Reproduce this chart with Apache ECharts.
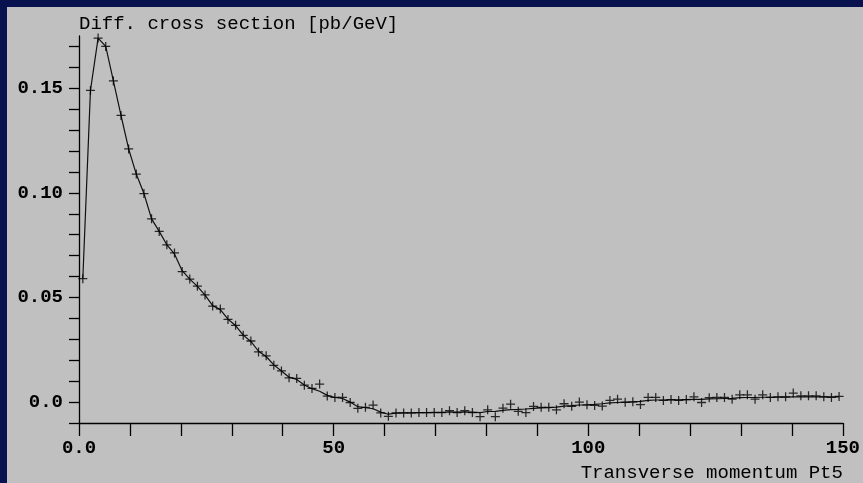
<!DOCTYPE html>
<html>
<head>
<meta charset="utf-8">
<script src="https://cdn.jsdelivr.net/npm/echarts@6/dist/echarts.min.js"></script>
<style>
  html, body { margin: 0; padding: 0; width: 863px; height: 483px; overflow: hidden; background: #07124f; }
  #chart { position: absolute; left: 7px; top: 7px; width: 856px; height: 476px; }
</style>
</head>
<body>
<div id="chart"></div>
<script>
// Bin centres (GeV)
const binCenters = [0.75,2.25,3.75,5.25,6.75,8.25,9.75,11.25,12.75,14.25,15.75,17.25,18.75,20.25,21.75,23.25,24.75,26.25,27.75,29.25,30.75,32.25,33.75,35.25,36.75,38.25,39.75,41.25,42.75,44.25,45.75,47.25,48.75,50.25,51.75,53.25,54.75,56.25,57.75,59.25,60.75,62.25,63.75,65.25,66.75,68.25,69.75,71.25,72.75,74.25,75.75,77.25,78.75,80.25,81.75,83.25,84.75,86.25,87.75,89.25,90.75,92.25,93.75,95.25,96.75,98.25,99.75,101.25,102.75,104.25,105.75,107.25,108.75,110.25,111.75,113.25,114.75,116.25,117.75,119.25,120.75,122.25,123.75,125.25,126.75,128.25,129.75,131.25,132.75,134.25,135.75,137.25,138.75,140.25,141.75,143.25,144.75,146.25,147.75,149.25];

// Measured points (crosses), pb/GeV
const pointValues = [0.059,0.149,0.174,0.170,0.1535,0.137,0.121,0.109,0.0997,0.0876,0.0816,0.0752,0.0713,0.0624,0.0588,0.0554,0.0512,0.0459,0.0445,0.0395,0.0367,0.0319,0.0292,0.0240,0.0221,0.0176,0.0149,0.0116,0.0113,0.0081,0.0065,0.0086,0.0029,0.0022,0.0022,-0.0002,-0.0030,-0.0025,-0.0014,-0.0052,-0.0068,-0.0052,-0.0052,-0.0052,-0.0050,-0.0050,-0.0050,-0.0050,-0.0041,-0.0050,-0.0041,-0.0050,-0.0070,-0.0037,-0.0070,-0.0029,-0.0010,-0.0044,-0.0050,-0.0021,-0.0025,-0.0025,-0.0037,-0.0008,-0.0020,0.0000,-0.0013,-0.0016,-0.0019,0.0008,0.0014,-0.0001,0.0001,-0.0012,0.0022,0.0022,0.0008,0.0012,0.0008,0.0012,0.0025,-0.0002,0.0021,0.0022,0.0022,0.0014,0.0035,0.0035,0.0014,0.0035,0.0022,0.0025,0.0025,0.0043,0.0030,0.0030,0.0030,0.0025,0.0022,0.0027];

// Smooth curve values
const curveValues = [0.059,0.149,0.174,0.170,0.1535,0.137,0.121,0.109,0.0997,0.0876,0.0816,0.0752,0.0708,0.0628,0.0588,0.0553,0.0511,0.0461,0.0442,0.0396,0.0366,0.0320,0.0290,0.0243,0.0218,0.0178,0.0149,0.0119,0.0108,0.0082,0.0064,0.0052,0.0032,0.0022,0.0017,0.0000,-0.0022,-0.0027,-0.0032,-0.0048,-0.0058,-0.0053,-0.0052,-0.0052,-0.0050,-0.0050,-0.0049,-0.0049,-0.0047,-0.0048,-0.0047,-0.0048,-0.0050,-0.0045,-0.0044,-0.0040,-0.0036,-0.0035,-0.0033,-0.0030,-0.0028,-0.0027,-0.0024,-0.0019,-0.0017,-0.0014,-0.0013,-0.0011,-0.0008,-0.0004,-0.0002,0.0000,0.0001,0.0003,0.0008,0.0010,0.0010,0.0011,0.0011,0.0012,0.0013,0.0013,0.0015,0.0016,0.0017,0.0018,0.0021,0.0022,0.0022,0.0023,0.0023,0.0024,0.0024,0.0025,0.0025,0.0025,0.0025,0.0025,0.0025,0.0025];

// Axis ticks and labels
const yTicks = [-0.01,0,0.01,0.02,0.03,0.04,0.05,0.06,0.07,0.08,0.09,0.10,0.11,0.12,0.13,0.14,0.15,0.16,0.17];
const yLabels = [0, 0.05, 0.10, 0.15];
const yLabelText = {'0': '0.0', '0.05': '0.05', '0.1': '0.10', '0.15': '0.15'};
const xTicks = [0,10,20,30,40,50,60,70,80,90,100,110,120,130,140,150];
const xLabels = [0, 50, 100, 150];
const xLabelText = {'0': '0.0', '50': '50', '100': '100', '150': '150'};

const FONT = 'Liberation Mono';

const pointData = binCenters.map((x, i) => [x, pointValues[i]]);
const curveData = binCenters.map((x, i) => [x, curveValues[i]]);

const chart = echarts.init(document.getElementById('chart'), null, {renderer: 'canvas'});
chart.setOption({
  backgroundColor: '#c0c0c0',
  animation: false,
  grid: { left: 72, right: 16, top: 29, bottom: 60 },
  xAxis: {
    type: 'value',
    min: 0, max: 150, interval: 10,
    name: 'Transverse momentum Pt5',
    nameLocation: 'end',
    nameGap: 0,
    nameTextStyle: { fontFamily: FONT, fontSize: 19, color: '#000', align: 'right', verticalAlign: 'top', padding: [40, 0, 0, 0] },
    axisLine: { onZero: false, lineStyle: { color: '#000', width: 1.3 } },
    axisTick: { show: true, length: 13, inside: false, customValues: xTicks, lineStyle: { color: '#000', width: 1.3 } },
    axisLabel: { customValues: xLabels, margin: 16, fontFamily: FONT, fontSize: 19, fontWeight: 'bold', color: '#000',
      formatter: v => xLabelText[String(v)] },
    splitLine: { show: false }
  },
  yAxis: {
    type: 'value',
    min: -0.01, max: 0.175, interval: 0.01,
    name: 'Diff. cross section [pb/GeV]',
    nameLocation: 'end',
    nameGap: 3,
    nameTextStyle: { fontFamily: FONT, fontSize: 19, color: '#000', align: 'left', verticalAlign: 'bottom' },
    axisLine: { show: true, onZero: false, lineStyle: { color: '#000', width: 1.3 } },
    axisTick: { show: true, length: 10, inside: false, customValues: yTicks, lineStyle: { color: '#000', width: 1.3 } },
    axisLabel: { customValues: yLabels, margin: 16, fontFamily: FONT, fontSize: 19, fontWeight: 'bold', color: '#000',
      formatter: v => yLabelText[String(Math.round(v * 100) / 100)] },
    splitLine: { show: false }
  },
  series: [
    {
      type: 'line',
      data: curveData,
      showSymbol: false,
      symbol: 'none',
      lineStyle: { color: '#111', width: 1.2 },
      z: 2
    },
    {
      type: 'scatter',
      data: pointData,
      symbol: 'path://M0,4.3h10v1.4h-10z M4.3,0h1.4v10h-1.4z',
      symbolSize: [9, 9],
      itemStyle: { color: '#000' },
      z: 3
    }
  ]
});
</script>
</body>
</html>
